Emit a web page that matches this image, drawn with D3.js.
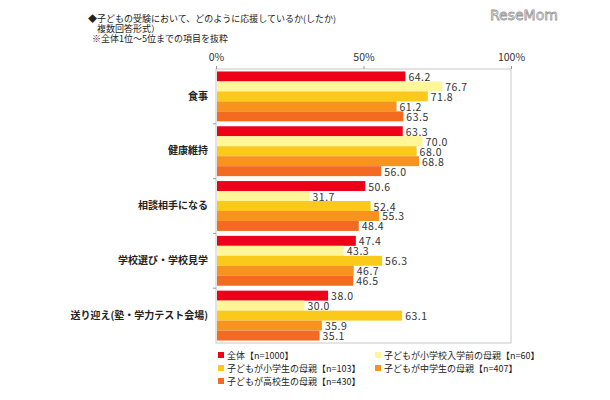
<!DOCTYPE html>
<html>
<head>
<meta charset="utf-8">
<script src="https://cdn.jsdelivr.net/npm/d3@7"></script>
<style>
  body { margin: 0; background: #fff; }
  text { font-family: "Noto Sans CJK JP", "Noto Sans", sans-serif; }
</style>
</head>
<body>
<script>
// Chart data
var categories = ['食事', '健康維持', '相談相手になる', '学校選び・学校見学', '送り迎え(塾・学力テスト会場)'];
var seriesNames = ['全体【n=1000】', '子どもが小学校入学前の母親【n=60】', '子どもが小学生の母親【n=103】',
  '子どもが中学生の母親【n=407】', '子どもが高校生の母親【n=430】'];
var allValues   = [64.2, 63.3, 50.6, 47.4, 38.0];
var preschool   = [76.7, 70.0, 31.7, 43.3, 30.0];
var elementary  = [71.8, 68.0, 52.4, 56.3, 63.1];
var juniorHigh  = [61.2, 68.8, 55.3, 46.7, 35.9];
var highSchool  = [63.5, 56.0, 48.4, 46.5, 35.1];
var tickValues = [0, 50, 100];

var colors = ['#ee0019', '#fff599', '#fbc91a', '#f7931e', '#f36b21'];
var seriesValues = [allValues, preschool, elementary, juniorHigh, highSchool];

var width = 610, height = 400;
var plot = { left: 216, right: 511, top: 69, bottom: 343 };

var svg = d3.select('body').append('svg')
  .attr('width', width)
  .attr('height', height);

// Title block
var title = svg.append('g').attr('fill', '#222').style('font-size', '9px');
title.append('text').attr('x', 88).attr('y', 22).text('◆子どもの受験において、どのように応援しているか(したか)');
title.append('text').attr('x', 97).attr('y', 32).text('複数回答形式）');
title.append('text').attr('x', 92).attr('y', 42).text('※全体1位～5位までの項目を抜粋');

// logo
svg.append('text')
  .attr('x', 490).attr('y', 20)
  .style('font-family', 'DejaVu Sans, sans-serif')
  .style('font-size', '14px')
  .attr('fill', '#fff')
  .attr('stroke', '#9a9a9a')
  .attr('stroke-width', 0.8)
  .text('ReseMom');

// scales
var x = d3.scaleLinear().domain([0, 100]).range([plot.left, plot.right]);
var y = d3.scaleBand().domain(categories).range([plot.top, plot.bottom]).paddingInner(0.09).paddingOuter(0.045);
var ySub = d3.scaleBand().domain(d3.range(5)).range([0, y.bandwidth()]);

// frame
svg.append('rect')
  .attr('x', plot.left).attr('y', plot.top)
  .attr('width', plot.right - plot.left).attr('height', plot.bottom - plot.top)
  .attr('fill', 'none').attr('stroke', '#c8c8c8');

// top axis
var xAxis = d3.axisTop(x).tickValues(tickValues).tickSize(3).tickFormat(function(d) { return d + '%'; });
var gx = svg.append('g').attr('transform', 'translate(0,' + plot.top + ')').call(xAxis);
gx.select('.domain').remove();
gx.selectAll('line').attr('stroke', '#999');
gx.selectAll('text').attr('fill', '#333').style('font-size', '10.5px').attr('dy', '-2px');

// left axis labels
var gy = svg.append('g').attr('transform', 'translate(' + (plot.left - 8) + ',0)')
  .call(d3.axisLeft(y).tickSize(0).tickPadding(0));
gy.select('.domain').remove();
gy.selectAll('text').attr('fill', '#222').style('font-size', '10px').style('font-weight', 'bold');

// small separators between groups on the left axis
var step = y.step();
svg.append('g').selectAll('line')
  .data(categories.slice(1))
  .enter().append('line')
  .attr('x1', plot.left - 3).attr('x2', plot.left)
  .attr('y1', function(d) { return y(d) - (step - y.bandwidth()) / 2; })
  .attr('y2', function(d) { return y(d) - (step - y.bandwidth()) / 2; })
  .attr('stroke', '#999');

// bars
var rows = [];
categories.forEach(function(c, ci) {
  seriesValues.forEach(function(s, si) {
    rows.push({ cat: c, s: si, v: s[ci] });
  });
});

var bars = svg.append('g');
bars.selectAll('rect')
  .data(rows)
  .enter().append('rect')
  .attr('x', x(0) + 1)
  .attr('y', function(d) { return y(d.cat) + ySub(d.s); })
  .attr('width', function(d) { return x(d.v) - x(0) - 1; })
  .attr('height', ySub.bandwidth())
  .attr('fill', function(d) { return colors[d.s]; });

bars.selectAll('text')
  .data(rows)
  .enter().append('text')
  .attr('x', function(d) { return x(d.v) + 3; })
  .attr('y', function(d) { return y(d.cat) + ySub(d.s) + ySub.bandwidth() / 2 + 4.5; })
  .attr('fill', '#333')
  .style('font-size', '10.5px')
  .style('letter-spacing', '0.5px')
  .text(function(d) { return d.v.toFixed(1); });

// legend
var legendPos = [[220, 356], [377, 356], [220, 369], [377, 369], [220, 382]];
var legend = svg.append('g').selectAll('g')
  .data(seriesNames)
  .enter().append('g')
  .attr('transform', function(d, i) { return 'translate(' + legendPos[i][0] + ',' + legendPos[i][1] + ')'; });
legend.append('rect')
  .attr('x', -2).attr('y', -4).attr('width', 6).attr('height', 6)
  .attr('fill', function(d, i) { return colors[i]; });
legend.append('text')
  .attr('x', 7).attr('y', 3)
  .attr('fill', '#222')
  .style('font-size', '9px')
  .text(function(d) { return d; });
</script>
</body>
</html>
